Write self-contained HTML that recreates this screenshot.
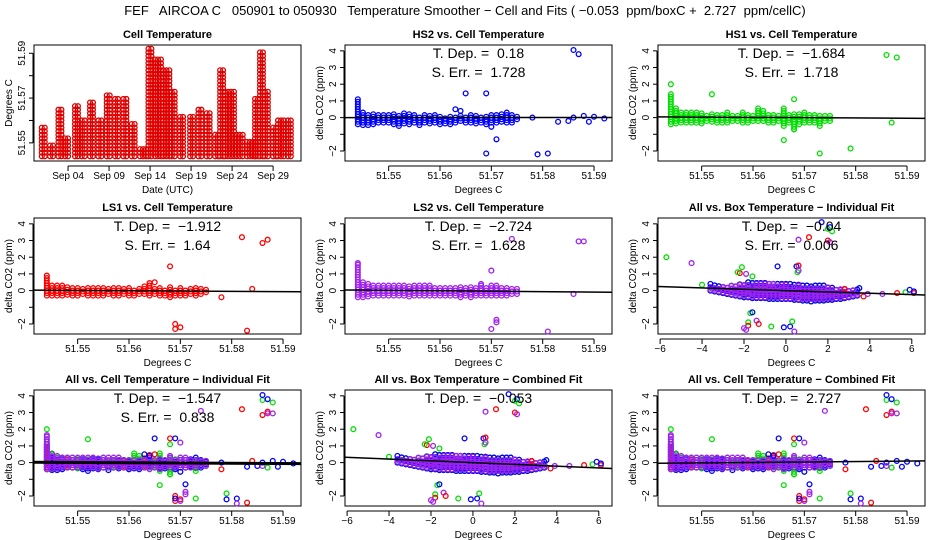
<!DOCTYPE html>
<html><head><meta charset="utf-8">
<style>
html,body{margin:0;padding:0;background:#fff;}
svg{display:block;font-family:"Liberation Sans",sans-serif;}
text{white-space:pre;}
</style></head>
<body>
<svg id="chart" width="936" height="540" viewBox="0 0 936 540" xmlns="http://www.w3.org/2000/svg">
<text x="465" y="15" text-anchor="middle" font-size="13" xml:space="preserve">FEF   AIRCOA C   050901 to 050930   Temperature Smoother − Cell and Fits ( −0.053  ppm/boxC +  2.727  ppm/cellC)</text>
</svg>
<script>
// ---------- DATA ----------
const cellDayStart = [0.80,1.81,2.83,3.64,4.85,5.67,6.68,7.70,8.72,9.73,10.75,11.76,12.78,13.80,14.61,15.63,16.64,17.66,18.88,19.90,20.90,21.93,22.54,23.15,24.57,25.80,26.80,27.40,28.00,29.00,29.60,30.80];
const cellDayEnd   = [1.20,2.42,3.44,4.25,5.26,6.28,7.30,8.31,9.33,10.34,11.36,12.17,13.59,14.41,15.43,16.44,17.25,18.27,19.29,20.30,21.53,22.54,22.95,24.37,25.59,27.00,27.40,28.00,28.60,29.40,30.40,31.40];
const cellMaxTemp  = [51.558,51.549,51.565,51.553,51.567,51.560,51.569,51.560,51.572,51.570,51.570,51.559,51.548,51.592,51.588,51.583,51.573,51.562,51.562,51.565,51.564,51.555,51.583,51.574,51.555,51.551,51.570,51.591,51.573,51.557,51.560,51.561];
const cellMinTemp  = [51.544,51.544,51.544,51.544,51.544,51.544,51.544,51.544,51.544,51.544,51.544,51.544,51.544,51.544,51.544,51.544,51.544,51.544,51.544,51.544,51.544,51.544,51.544,51.544,51.544,51.544,51.544,51.544,51.544,51.544,51.544,51.544];
const dayTicks = [4,9,14,19,24,29];
const dayTickLabels = ["Sep 04","Sep 09","Sep 14","Sep 19","Sep 24","Sep 29"];

const bandTemps = [51.544,51.545,51.546,51.547,51.548,51.549,51.550,51.551,51.552,51.553,51.554,51.555,51.556,51.557,51.558,51.559,51.560,51.561,51.562,51.563,51.564,51.565,51.566,51.567,51.568,51.569,51.570,51.571,51.572,51.573,51.574,51.575];
const ls1Lo = [-0.3,-0.3,-0.3,-0.3,-0.25,-0.3,-0.3,-0.2,-0.3,-0.3,-0.3,-0.3,-0.2,-0.3,-0.3,-0.2,-0.3,-0.3,-0.2,-0.2,-0.3,-0.2,-0.3,-0.3,-0.4,-0.3,-0.3,-0.3,-0.2,-0.3,-0.2,-0.1];
const ls1Hi = [1.0,0.35,0.3,0.3,0.25,0.2,0.2,0.2,0.25,0.2,0.2,0.2,0.2,0.2,0.2,0.2,0.2,0.1,0.2,0.3,0.5,0.2,0.2,0.1,0.2,0.1,0.2,0.1,0.2,0.2,0.1,0.1];
const hs1Lo = [-0.4,-0.35,-0.3,-0.3,-0.3,-0.3,-0.35,-0.2,-0.25,-0.3,-0.3,-0.3,-0.2,-0.2,-0.3,-0.3,-0.2,-0.2,-0.2,-0.3,-0.3,-0.2,-0.5,-0.3,-0.7,-0.4,-0.3,-0.3,-0.3,-0.5,-0.2,-0.2];
const hs1Hi = [1.5,0.6,0.4,0.3,0.3,0.35,0.3,0.2,0.2,0.2,0.25,0.3,0.2,0.2,0.3,0.2,0.2,0.4,0.5,0.2,0.2,0.2,0.6,0.2,0.2,0.2,0.3,0.2,0.2,0.2,0.1,0.1];
const hs2Lo = [-0.4,-0.45,-0.45,-0.4,-0.3,-0.3,-0.3,-0.4,-0.5,-0.35,-0.4,-0.3,-0.45,-0.3,-0.35,-0.3,-0.4,-0.35,-0.4,-0.3,-0.2,-0.3,-0.3,-0.35,-0.3,-0.4,-0.3,-0.3,-0.25,-0.3,-0.3,-0.1];
const hs2Hi = [1.1,0.35,0.25,0.2,0.2,0.25,0.2,0.2,0.2,0.3,0.3,0.2,0.1,0.2,0.2,0.2,0.1,0.05,0.05,0.1,0.15,0.1,0.2,0.1,0.1,0.1,0.2,0.2,0.2,0.3,0.2,0.1];
const ls2Lo = [-0.4,-0.4,-0.35,-0.3,-0.3,-0.3,-0.3,-0.3,-0.3,-0.3,-0.35,-0.3,-0.3,-0.3,-0.3,-0.3,-0.3,-0.3,-0.3,-0.3,-0.4,-0.3,-0.4,-0.3,-0.3,-0.3,-0.3,-0.3,-0.3,-0.3,-0.2,-0.2];
const ls2Hi = [1.65,0.5,0.4,0.35,0.3,0.3,0.3,0.3,0.3,0.3,0.3,0.3,0.3,0.3,0.3,0.25,0.2,0.2,0.2,0.2,0.3,0.2,0.2,0.2,0.4,0.2,0.3,0.3,0.2,0.2,0.1,0.1];

const ls1OutX = [51.565,51.568,51.569,51.569,51.570,51.578,51.582,51.583,51.586,51.587,51.584];
const ls1OutY = [0.5,1.45,-2.0,-2.3,-2.2,-0.4,3.2,-2.4,2.85,3.05,0.1];
const hs1OutX = [51.544,51.552,51.561,51.566,51.568,51.568,51.573,51.579,51.586,51.588,51.587];
const hs1OutY = [2.0,1.4,0.55,-1.35,1.1,-0.7,-2.15,-1.85,3.75,3.6,-0.3];
const hs2OutX = [51.563,51.564,51.565,51.569,51.569,51.570,51.571,51.578,51.579,51.581,51.583,51.585,51.586,51.586,51.587,51.588,51.589,51.590,51.592];
const hs2OutY = [0.5,0.4,1.45,1.45,-2.15,-0.55,-1.3,0.0,-2.2,-2.15,-0.25,-0.2,0.0,4.05,3.8,0.1,-0.25,0.05,-0.05];
const ls2OutX = [51.544,51.568,51.570,51.570,51.571,51.571,51.574,51.581,51.587,51.588,51.586];
const ls2OutY = [1.65,0.4,1.2,-2.3,-1.9,-1.75,3.1,-2.45,2.95,2.95,-0.2];

const boxTemps = [-3.6,-3.4,-3.2,-3.0,-2.8,-2.6,-2.4,-2.2,-2.0,-1.8,-1.6,-1.4,-1.2,-1.0,-0.8,-0.6,-0.4,-0.2,0.0,0.2,0.4,0.6,0.8,1.0,1.2,1.4,1.6,1.8,2.0,2.2,2.4,2.6,2.8,3.0,3.2,3.4];
const boxHi = [0.35,0.35,0.3,0.3,0.3,0.35,0.4,0.4,0.45,0.5,0.5,0.5,0.5,0.5,0.5,0.45,0.45,0.4,0.4,0.4,0.35,0.35,0.35,0.3,0.3,0.3,0.3,0.3,0.25,0.25,0.2,0.2,0.15,0.1,0.1,0.1];
const boxLo = [0.0,-0.05,-0.1,-0.15,-0.2,-0.25,-0.3,-0.35,-0.4,-0.4,-0.45,-0.45,-0.45,-0.45,-0.5,-0.5,-0.5,-0.5,-0.5,-0.5,-0.55,-0.55,-0.6,-0.6,-0.65,-0.6,-0.6,-0.6,-0.55,-0.55,-0.5,-0.5,-0.45,-0.4,-0.35,-0.3];
const boxHiP = [0.25,0.25,0.25,0.25,0.25,0.3,0.3,0.35,0.4,0.4,0.4,0.4,0.4,0.4,0.4,0.4,0.35,0.35,0.35,0.3,0.3,0.3,0.25,0.25,0.25,0.2,0.2,0.2,0.2,0.15,0.15,0.1,0.1,0.05,0.05,0.05];
const boxLoP = [0.05,0.0,-0.05,-0.1,-0.15,-0.2,-0.25,-0.3,-0.3,-0.35,-0.35,-0.4,-0.4,-0.4,-0.4,-0.4,-0.4,-0.45,-0.45,-0.45,-0.45,-0.5,-0.5,-0.5,-0.5,-0.5,-0.5,-0.5,-0.45,-0.45,-0.45,-0.4,-0.4,-0.35,-0.3,-0.25];
const boxOutX = [-5.7,-4.5,-4.0,-3.6,-2.2,-2.3,-2.1,-1.9,-1.6,-0.4,0.5,0.6,0.55,0.6,1.7,2.0,2.1,2.2,1.1,0.6,2.0,2.1,-1.7,-1.6,-1.8,-1.8,-2.0,-1.9,-1.4,-1.3,-0.7,-0.1,0.2,0.3,0.4,3.5,3.7,3.9,4.6,5.3,5.7,5.9,6.1,6.1,2.8];
const boxOutY = [2.0,1.65,0.35,0.4,1.05,1.1,1.4,1.0,0.85,1.45,1.45,1.5,1.1,1.2,4.1,3.7,3.8,3.55,3.2,3.05,3.0,2.9,-1.35,-1.3,-1.9,-2.1,-2.25,-2.35,-1.8,-2.0,-2.15,-2.2,-2.15,-1.85,-2.45,0.15,-0.35,-0.2,-0.2,-0.15,-0.1,0.05,-0.15,-0.05,0.1];
const boxOutS = [1,3,1,2,0,1,1,3,1,2,2,0,1,3,2,1,2,1,0,3,0,3,1,2,1,0,3,3,3,0,1,2,2,1,3,2,0,3,3,0,1,2,0,2,0];

const fitSlopes = [0.18,-1.684,-1.912,-2.724,-0.04,-1.547,-0.053,2.727];
const fitIntercepts = [0.0,0.02,0.0,0.0,0.0,0.0,0.0,0.0];

// ---------- DRAWING ----------
const NS = "http://www.w3.org/2000/svg";
const svg = document.getElementById("chart");
const COLORS = ["#ff0000","#00e000","#0000ff","#a020f0"];
const SERIES_NAMES = ["ls1","hs1","hs2","ls2"];
const colL = [34,345,658], rowT = [45,218,390], PW = 267, PH = 116;

function mk(tag, parent){ const e = document.createElementNS(NS, tag); (parent||svg).appendChild(e); return e; }
function txt(parent, x, y, s, size, anchor, weight){
  const t = mk("text", parent);
  t.setAttribute("x", x); t.setAttribute("y", y);
  t.setAttribute("font-size", size); t.setAttribute("text-anchor", anchor||"middle");
  if (weight) t.setAttribute("font-weight", weight);
  t.textContent = s; return t;
}
function makePanel(col,row,xmin,xmax,ymin,ymax,name){
  const L = colL[col], T = rowT[row];
  const g = mk("g");
  
  
  return {g, L, T, sx: v => L + (v - xmin)/(xmax - xmin)*PW, sy: v => T + PH - (v - ymin)/(ymax - ymin)*PH, xmin, xmax};
}
function frame(p, title, xticks, xlabels, yticks, ylabels, xtitle, ytitle){
  const b = mk("rect", p.g);
  
  
  b.setAttribute("x", p.L); b.setAttribute("y", p.T); b.setAttribute("width", PW); b.setAttribute("height", PH);
  b.setAttribute("fill","none"); b.setAttribute("stroke","#000"); b.setAttribute("stroke-width","1");
  const tt = txt(p.g, p.L + PW/2, p.T - 7, title, 11, "middle", "bold");
  
  
  const B = p.T + PH;
  const xa = mk("line", p.g);
  
  
  xa.setAttribute("x1", p.sx(xticks[0])); xa.setAttribute("x2", p.sx(xticks[xticks.length-1]));
  xa.setAttribute("y1", B+5); xa.setAttribute("y2", B+5); xa.setAttribute("stroke","#000");
  xticks.forEach((v,i)=>{
    const l = mk("line", p.g);
    
    
    l.setAttribute("x1", p.sx(v)); l.setAttribute("x2", p.sx(v)); l.setAttribute("y1", B+5); l.setAttribute("y2", B+10); l.setAttribute("stroke","#000");
    const t = txt(p.g, p.sx(v), B+18, xlabels[i], 10);
    
    
  });
  const xt = txt(p.g, p.L + PW/2, B+32, xtitle, 10);
  
  
  const ya = mk("line", p.g);
  
  
  ya.setAttribute("x1", p.L-1); ya.setAttribute("x2", p.L-1);
  ya.setAttribute("y1", p.sy(yticks[0])); ya.setAttribute("y2", p.sy(yticks[yticks.length-1])); ya.setAttribute("stroke","#000");
  yticks.forEach((v,i)=>{
    const y = p.sy(v);
    const l = mk("line", p.g);
    
    
    l.setAttribute("x1", p.L-5); l.setAttribute("x2", p.L-1); l.setAttribute("y1", y); l.setAttribute("y2", y); l.setAttribute("stroke","#000");
    if (ylabels[i] !== "") {
      const t = txt(p.g, 0, 0, ylabels[i], 10);
      
      
      t.setAttribute("transform", "translate(" + (p.L-9) + "," + y + ") rotate(-90)");
    }
  });
  const yt = txt(p.g, 0, 0, ytitle, 10);
  
  
  yt.setAttribute("transform", "translate(" + (p.L-22) + "," + (p.T+PH/2) + ") rotate(-90)");
}
function dot(p, x, y, color, name){
  const c = mk("circle", p.g);
  
  
  c.setAttribute("cx", p.sx(x)); c.setAttribute("cy", p.sy(y)); c.setAttribute("r", 2.4);
  c.setAttribute("fill","none"); c.setAttribute("stroke", color); c.setAttribute("stroke-width","1.3");
}
function band(p, xs, lo, hi, color, step, name){
  xs.forEach((x,i)=>{ for (let v = lo[i]; v <= hi[i] + 1e-9; v += step) dot(p, x, v, color, name); });
}
function outs(p, xs, ys, color, name){ xs.forEach((x,i)=> dot(p, x, ys[i], color, name)); }
function fit(p, k, x0, width){
  const l = mk("line", p.g);
  
  
  const f = x => fitIntercepts[k] + fitSlopes[k]*(x - x0);
  l.setAttribute("x1", p.L); l.setAttribute("x2", p.L+PW);
  l.setAttribute("y1", p.sy(f(p.xmin))); l.setAttribute("y2", p.sy(f(p.xmax)));
  l.setAttribute("stroke","#000"); l.setAttribute("stroke-width", width);
}
function annot(p, l1, l2){
  const a = txt(p.g, p.L + PW/2, p.T + 13, l1, 14);
  
  
  if (l2) {
    const b = txt(p.g, p.L + PW/2, p.T + 32, l2, 14);
    
    
  }
}

const cellTicks = [51.55,51.56,51.57,51.58,51.59];
const cellTickLabels = ["51.55","51.56","51.57","51.58","51.59"];
const ppmTicks = [-2,-1,0,1,2,3,4];
const ppmTickLabels = ["−2","","0","1","2","3","4"];
const boxTicks = [-6,-4,-2,0,2,4,6];
const boxTickLabels = ["−6","−4","−2","0","2","4","6"];
const CX = [51.5415, 51.5935], YL = [-2.6, 4.35], BX = [-6.1, 6.63];
const bandArr = [[ls1Lo,ls1Hi],[hs1Lo,hs1Hi],[hs2Lo,hs2Hi],[ls2Lo,ls2Hi]];
const outArr = [[ls1OutX,ls1OutY],[hs1OutX,hs1OutY],[hs2OutX,hs2OutY],[ls2OutX,ls2OutY]];

// Panel 1
{
  const p = makePanel(0,0,-0.15,32.4,51.5419,51.5937,"cell-temperature-panel");
  frame(p, "Cell Temperature", dayTicks, dayTickLabels, [51.55,51.56,51.57,51.58,51.59], ["51.55","","51.57","","51.59"], "Date (UTC)", "Degrees C");
  cellDayStart.forEach((d0,i)=>{
    for (let d = d0; d <= cellDayEnd[i] + 1e-9; d += 0.36)
      for (let v = cellMinTemp[i]; v <= cellMaxTemp[i] + 1e-9; v += 0.0016) dot(p, d, v, "#e00000", "cell-temp-point");
  });
}
const singleDefs = [[1,0,2,"HS2 vs. Cell Temperature","T. Dep. =  0.18","S. Err. =  1.728",0],
                    [2,0,1,"HS1 vs. Cell Temperature","T. Dep. =  −1.684","S. Err. =  1.718",1],
                    [0,1,0,"LS1 vs. Cell Temperature","T. Dep. =  −1.912","S. Err. =  1.64",2],
                    [1,1,3,"LS2 vs. Cell Temperature","T. Dep. =  −2.724","S. Err. =  1.628",3]];
singleDefs.forEach(d=>{
  const s = d[2];
  const p = makePanel(d[0],d[1],CX[0],CX[1],YL[0],YL[1], SERIES_NAMES[s] + "-vs-cell-panel");
  frame(p, d[3], cellTicks, cellTickLabels, ppmTicks, ppmTickLabels, "Degrees C", "delta CO2 (ppm)");
  band(p, bandTemps, bandArr[s][0], bandArr[s][1], COLORS[s], 0.15, SERIES_NAMES[s] + "-point");
  outs(p, outArr[s][0], outArr[s][1], COLORS[s], SERIES_NAMES[s] + "-outlier");
  fit(p, d[6], 51.556, 1.5);
  annot(p, d[4], d[5]);
});
function boxPanel(col,row,title,l1,l2,k,name){
  const p = makePanel(col,row,BX[0],BX[1],YL[0],YL[1],name);
  frame(p, title, boxTicks, boxTickLabels, ppmTicks, ppmTickLabels, "Degrees C", "delta CO2 (ppm)");
  for (let s = 0; s < 3; s++) band(p, boxTemps, boxLo, boxHi, COLORS[s], 0.18, SERIES_NAMES[s] + "-point");
  band(p, boxTemps, boxLoP, boxHiP, COLORS[3], 0.16, "ls2-point");
  boxOutX.forEach((x,i)=> dot(p, x, boxOutY[i], COLORS[boxOutS[i]], "box-outlier"));
  fit(p, k, 0, 1.5);
  annot(p, l1, l2);
}
boxPanel(2,1,"All vs. Box Temperature − Individual Fit","T. Dep. =  −0.04","S. Err. =  0.006",4,"all-vs-box-individual-panel");
boxPanel(1,2,"All vs. Box Temperature − Combined Fit","T. Dep. =  −0.053",null,6,"all-vs-box-combined-panel");
function allCell(col,row,title,l1,l2,k,w,name){
  const p = makePanel(col,row,CX[0],CX[1],YL[0],YL[1],name);
  frame(p, title, cellTicks, cellTickLabels, ppmTicks, ppmTickLabels, "Degrees C", "delta CO2 (ppm)");
  for (let s = 0; s < 4; s++) band(p, bandTemps, bandArr[s][0], bandArr[s][1], COLORS[s], 0.15, SERIES_NAMES[s] + "-point");
  for (let s = 0; s < 4; s++) outs(p, outArr[s][0], outArr[s][1], COLORS[s], SERIES_NAMES[s] + "-outlier");
  fit(p, k, 51.556, w);
  annot(p, l1, l2);
}
allCell(0,2,"All vs. Cell Temperature − Individual Fit","T. Dep. =  −1.547","S. Err. =  0.838",5,3,"all-vs-cell-individual-panel");
allCell(2,2,"All vs. Cell Temperature − Combined Fit","T. Dep. =  2.727",null,7,1.5,"all-vs-cell-combined-panel");
</script>
</body></html>
